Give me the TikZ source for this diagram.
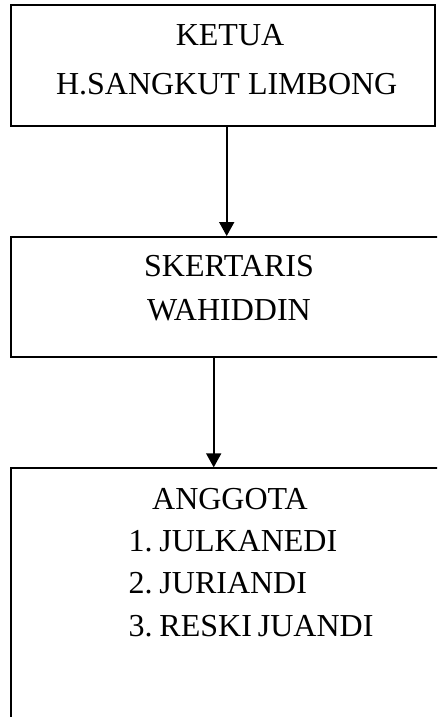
\documentclass[tikz,border=0pt]{standalone}
\usepackage{fontspec}
\setmainfont{Liberation Serif}
\usetikzlibrary{arrows.meta}
\begin{document}
\begin{tikzpicture}[x=1pt,y=-1pt,
  box/.style={draw=black,line width=1.9pt,rectangle,inner sep=0pt},
  lbl/.style={font=\fontsize{32}{38}\selectfont,inner sep=0pt,anchor=base},
  lst/.style={font=\fontsize{32}{38}\selectfont,inner sep=0pt,anchor=base west},
  arr/.style={line width=1.6pt,-{Triangle[length=14pt,width=15pt]}}]
\useasboundingbox (0,0) rectangle (437,717);
\clip (0,0) rectangle (437,717);
\node[box,minimum width=424pt,minimum height=121.3pt] (ketua) at (223,65.35) {};
\node[box,minimum width=450pt,minimum height=120pt] (sek) at (236,297) {};
\node[box,minimum width=450pt,minimum height=280pt] (ang) at (236,608.3) {};
\node[lbl] (t1) at (230,46) {KETUA};
\node[lbl] (t2) at (226.7,94) {H.SANGKUT LIMBONG};
\node[lbl] (t3) at (229,276.7) {SKERTARIS};
\node[lbl] (t4) at (229,320) {WAHIDDIN};
\node[lbl] (t5) at (230,509.3) {ANGGOTA};
\node[lst] (l1) at (128.3,551) {1.\kern-1pt\ JULKANEDI};
\node[lst] (l2) at (128.3,593.3) {2.\kern-1pt\ JURIANDI};
\node[lst] (l3) at (128.3,636) {3.\kern-1pt\ RESKI\kern-2pt\ JUANDI};
\draw[arr] (226.7,0 |- ketua.south) -- (226.7,0 |- sek.north);
\draw[arr] (213.7,0 |- sek.south) -- (213.7,0 |- ang.north);
\end{tikzpicture}
\end{document}
